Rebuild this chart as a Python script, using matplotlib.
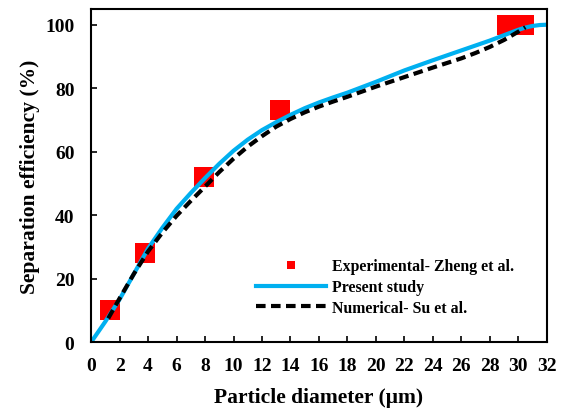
import matplotlib
matplotlib.use("Agg")
import matplotlib.pyplot as plt

plt.rcParams['font.family'] = ['Liberation Serif', 'DejaVu Serif']
plt.rcParams['font.weight'] = 'bold'

# experimental data (Zheng et al.)
exp_d = [1.3, 3.8, 7.9, 13.3, 29.2, 30.4]
exp_eff = [10.2, 28.0, 52.0, 73.2, 100.0, 100.0]

# present study
present_d = [0, 1, 2, 3, 4, 5, 6, 7, 8, 9, 10, 11, 12, 13, 14, 15, 16, 17, 18,
             20, 22, 24, 26, 28, 29, 30, 30.5, 31, 31.5, 32]
present_eff = [0, 6.5, 13.5, 21.5, 29.5, 36.0, 42.0, 47.0, 51.7, 56.2, 60.3,
               63.8, 66.8, 69.3, 71.6, 73.7, 75.5, 77.1, 78.6, 82.0, 85.6,
               88.8, 91.9, 95.0, 96.7, 98.4, 99.1, 99.6, 99.9, 100.0]

# numerical results (Su et al.)
su_d = [1.2, 2, 3, 4, 5, 6, 7, 8, 9, 10, 11, 12, 13, 14, 15, 16, 17, 18, 20,
        22, 24, 26, 27, 28, 29, 30, 30.5]
su_eff = [7.5, 13.8, 21.5, 28.6, 34.5, 39.8, 44.5, 49.0, 53.6, 57.8, 61.6,
          64.9, 67.9, 70.3, 72.4, 74.2, 75.8, 77.3, 80.5, 83.5, 86.5, 89.4,
          91.1, 93.0, 95.2, 97.8, 99.2]

fig = plt.figure(figsize=(5.66, 4.10), dpi=100)
ax = fig.add_axes([0.161, 0.163, 0.805, 0.813])

ax.plot(exp_d, exp_eff, 's', color='#ff0000', markersize=14, markeredgewidth=0,
        label='Experimental- Zheng et al.', zorder=1)
ax.plot(present_d, present_eff, '-', color='#00b0f0', linewidth=3,
        label='Present study', zorder=2)
ax.plot(su_d, su_eff, '--', color='black', linewidth=3, dashes=(2.3, 1.3),
        label='Numerical- Su et al.', zorder=3)

ax.set_xlim(0, 32)
ax.set_ylim(0, 105)
ax.set_xticks(range(0, 33, 2))
ax.set_yticks(range(0, 101, 20))
ax.tick_params(direction='in', length=4, width=1.2, labelsize=14)
ax.tick_params(axis='x', pad=11)
ax.tick_params(axis='y', pad=12)
for sp in ax.spines.values():
    sp.set_linewidth(1.5)

ax.set_xlabel('Particle diameter (\u03bcm)', fontsize=15.5, fontweight='bold', labelpad=9)
ax.set_ylabel('Separation efficiency (%)', fontsize=15.5, fontweight='bold', labelpad=4)

leg = ax.legend(loc='upper left', bbox_to_anchor=(0.345, 0.275), frameon=False,
                fontsize=11.4, handlelength=4.4, handletextpad=0.4,
                labelspacing=0.3, borderpad=0, markerscale=0.45)
for t in leg.get_texts():
    t.set_fontweight('bold')

fig.savefig('out.png', dpi=100)
